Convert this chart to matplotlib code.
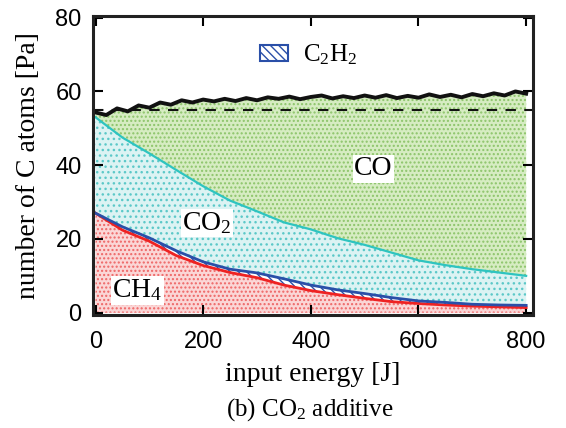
import numpy as np
import matplotlib
matplotlib.use("Agg")
import matplotlib.pyplot as plt
from matplotlib.patches import Patch

# input energy [J] and partial pressures
energy = [0, 50, 100, 150, 200, 250, 300, 350, 400, 450, 500, 550, 600, 650, 700, 750, 800]
ch4 = [27, 22.4, 19.4, 15.5, 12.8, 10.9, 9.5, 7.5, 6.0, 4.9, 3.9, 3.0, 2.5, 2.1, 1.8, 1.6, 1.4]
ch4_c2h2 = [27, 23.3, 20.3, 16.8, 13.8, 11.8, 10.8, 9.2, 7.5, 6.2, 5.2, 4.1, 3.2, 2.8, 2.3, 2.1, 2.0]
ch4_c2h2_co2 = [53, 47.5, 43.2, 38.7, 34.3, 30.4, 27.5, 24.5, 22.6, 20.2, 18.4, 16.3, 14.2, 12.9, 11.8, 10.9, 10.0]

energy_total = [0, 20, 40, 60, 80, 100, 120, 140, 160, 180, 200, 220, 240, 260, 280, 300,
                320, 340, 360, 380, 400, 420, 440, 460, 480, 500, 520, 540, 560, 580, 600,
                620, 640, 660, 680, 700, 720, 740, 760, 780, 800]
total = [54.3, 53.6, 55.4, 54.6, 56.2, 55.6, 57.0, 56.4, 57.6, 57.0, 57.8, 57.3, 58.0, 57.4, 58.2, 57.6,
         58.4, 58.0, 58.6, 57.9, 58.5, 58.9, 58.1, 58.7, 58.2, 58.9, 58.3, 59.0, 58.2, 58.8, 58.3,
         59.2, 58.5, 59.1, 58.4, 59.3, 58.7, 59.5, 58.9, 60.0, 59.4]
initial = 55

serif = 'Liberation Serif'
plt.rcParams['mathtext.fontset'] = 'custom'
plt.rcParams['mathtext.rm'] = serif
plt.rcParams['mathtext.it'] = serif + ':italic'
plt.rcParams['hatch.linewidth'] = 1.0

x = np.array(energy)
c_ch4 = np.array(ch4)
c_c2h2 = np.array(ch4_c2h2)
c_co2 = np.array(ch4_c2h2_co2)

fig = plt.figure(figsize=(5.66, 4.28), dpi=100)
ax = fig.add_axes([0.164, 0.265, 0.777, 0.698])

# CO region between CO2 top and total, drawn on finer grid
xt = np.array(energy_total, dtype=float)
co2_fine = np.interp(xt, x, c_co2)
ax.fill_between(xt, co2_fine, total, facecolor='#d6ecc2', edgecolor='#8cc46a', hatch='....', linewidth=0)
ax.fill_between(x, c_c2h2, c_co2, facecolor='#dcf3f3', edgecolor='#5cc8c8', hatch='...', linewidth=0)
ax.fill_between(x, c_ch4, c_c2h2, facecolor='white', edgecolor='#2a4fa8', hatch='\\\\\\\\', linewidth=0)
ax.fill_between(x, 0, c_ch4, facecolor='#fbd6d6', edgecolor='#ee6666', hatch='....', linewidth=0)

ax.plot(x, c_ch4, color='#ee2222', lw=2)
ax.plot(x, c_c2h2, color='#2a4fa8', lw=2)
ax.plot(x, c_co2, color='#2ec4c0', lw=1.6)
ax.plot(energy_total, total, color='#111111', lw=2.8)
ax.axhline(initial, color='#111111', lw=1.5, ls=(0, (5, 4)))

box = dict(facecolor='white', edgecolor='none', pad=1)
ax.text(516, 39, 'CO', family=serif, fontsize=20, ha='center', va='center', bbox=box)
ax.text(207, 24.3, 'CO$_2$', family=serif, fontsize=20, ha='center', va='center', bbox=box)
ax.text(78, 6, 'CH$_4$', family=serif, fontsize=20, ha='center', va='center', bbox=box)

leg_patch = Patch(facecolor='white', edgecolor='#2a4fa8', hatch='\\\\\\\\', linewidth=1.5)
ax.legend([leg_patch], ['C$_2$H$_2$'], loc='upper left', bbox_to_anchor=(0.33, 0.985),
          frameon=False, prop={'family': serif, 'size': 18}, handlelength=1.1,
          handleheight=0.6, handletextpad=0.6)

ax.set_xlim(-5, 812)
ax.set_ylim(-0.5, 80.5)
ax.set_xticks([0, 200, 400, 600, 800])
ax.set_yticks([0, 20, 40, 60, 80])
ax.tick_params(direction='in', length=7, width=1.5, top=True, right=True, labelsize=17, pad=8)
ax.tick_params(axis='x', pad=12)
for lab in ax.get_xticklabels() + ax.get_yticklabels():
    lab.set_family('Liberation Sans')
for s in ax.spines.values():
    s.set_linewidth(2.2)
    s.set_color('#222222')

ax.set_xlabel('input energy [J]', family=serif, fontsize=20, labelpad=6)
ax.set_ylabel('number of C atoms [Pa]', family=serif, fontsize=20, labelpad=10)
fig.text(0.548, 0.03, '(b) CO$_2$ additive', family=serif, fontsize=18, ha='center')

fig.savefig('out.png', dpi=100)
